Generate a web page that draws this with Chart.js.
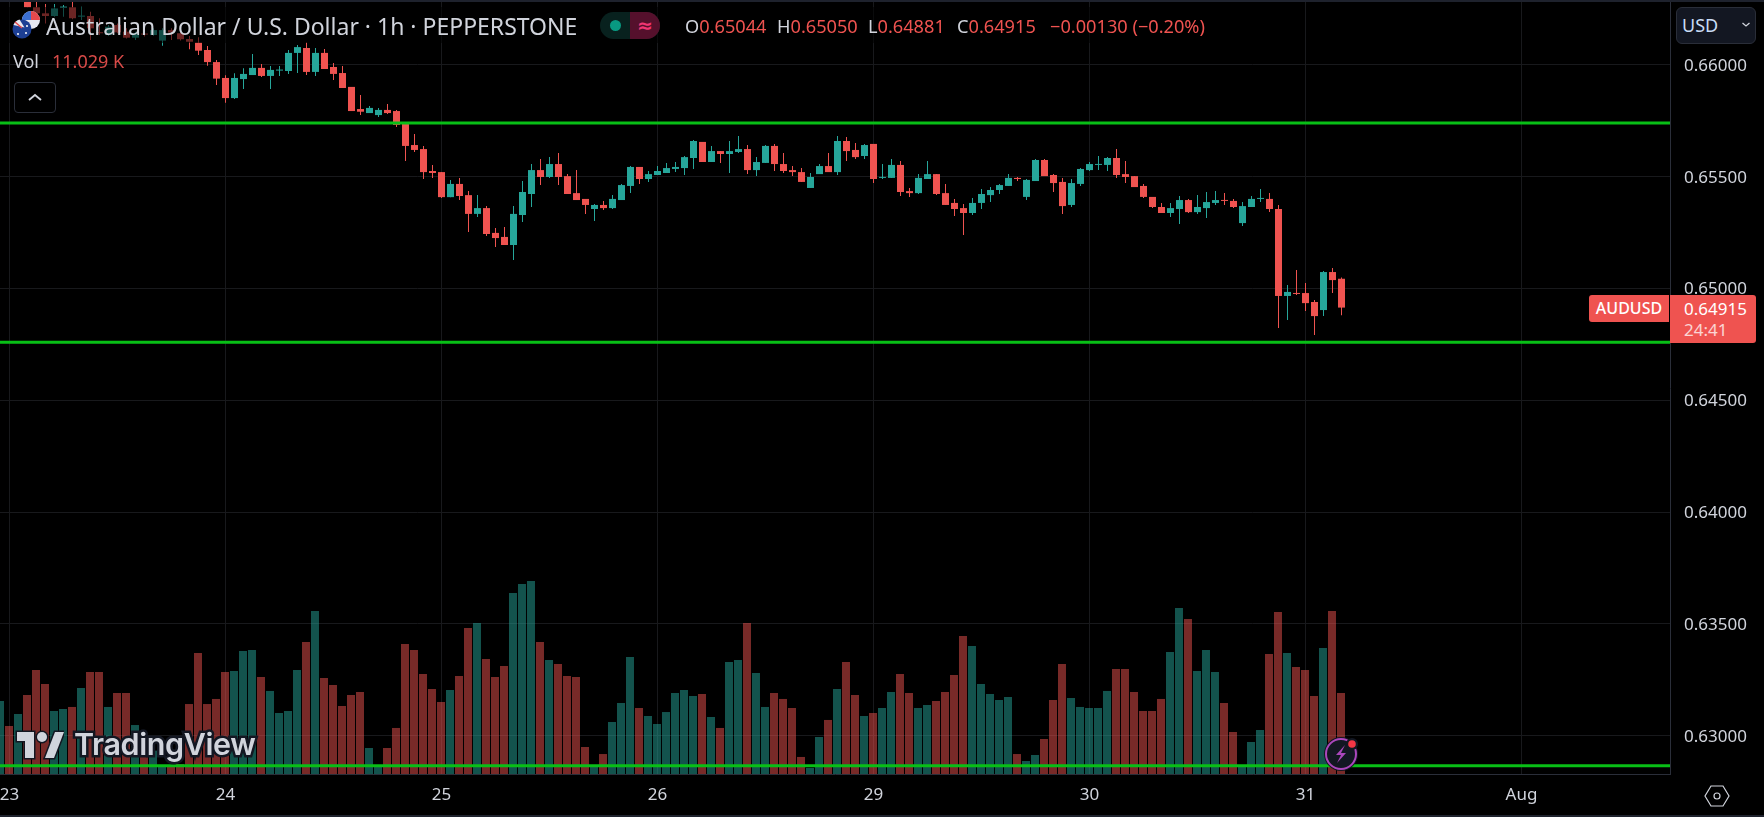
<!DOCTYPE html>
<html>
<head>
<meta charset="utf-8">
<title>AUDUSD 1h</title>
<script src="https://cdn.jsdelivr.net/npm/chart.js@4/dist/chart.umd.min.js"></script>
<style>
  html, body { margin: 0; padding: 0; background: #000; width: 1764px; height: 817px; overflow: hidden; }
  body { position: relative; font-family: "Noto Sans", sans-serif; color: #d1d4dc; }
  #chart { position: absolute; left: 0; top: 0; }
  .abs { position: absolute; white-space: nowrap; }
  .red { color: #ef5350; }
  #frameTop { left: 0; top: 0; width: 1764px; height: 2px; background: #1e222d; }
  #frameBottom { left: 0; top: 815px; width: 1764px; height: 2px; background: #1e222d; }
  #dim { left: 8px; top: 7px; width: 1205px; height: 36px; background: rgba(0,0,0,.55); }
  #title { left: 46px; top: 10px; font-size: 23px; line-height: 32px; }
  .ohlc { top: 12px; font-size: 18.2px; line-height: 28px; }
  #vol { left: 13px; top: 48px; font-size: 18px; line-height: 26px; }
  #volVal { left: 52px; top: 48px; font-size: 18px; line-height: 26px; color: #ef5350; opacity: .9; }
  #collapse { left: 14px; top: 82px; width: 40px; height: 29px; border: 1px solid #2a2e39; border-radius: 4px; }
  #pill { left: 600px; top: 12px; width: 60px; height: 27px; border-radius: 14px; overflow: hidden; background: #08211e; }
  #pill i { position: absolute; left: 10px; top: 8px; width: 11px; height: 11px; border-radius: 50%; background: #089981; }
  #pill b { position: absolute; left: 30px; top: 0; width: 30px; height: 27px; background: #55102c; color: #f23674; text-align: center; font: 700 19px/26px "DejaVu Sans", sans-serif; }
  #currency { left: 1676px; top: 7px; width: 78px; height: 35px; background: #131722; border: 1px solid #2a2e39; border-radius: 6px; font-size: 18px; line-height: 35px; text-indent: 5px; color: #c8dcf5; }
  #symbolTag { left: 1589px; top: 295px; width: 80px; height: 27px; background: #ef5350; border-radius: 3px 0 0 3px; color: #fff; font-size: 16px; font-weight: 500; line-height: 27px; text-align: center; }
  #priceTag { left: 1670px; top: 295px; width: 86px; height: 48px; background: #ef5350; border-radius: 0 3px 3px 0; color: #fff; font-size: 17px; }
  #priceTag span { position: absolute; left: 14px; }
</style>
</head>
<body>
<canvas id="chart" width="1764" height="817"></canvas>

<div class="abs" id="frameTop"></div>
<div class="abs" id="frameBottom"></div>
<div class="abs" id="dim"></div>

<svg class="abs" style="left:10px;top:8px" width="36" height="34" viewBox="0 0 36 34">
  <circle cx="21" cy="12" r="9" fill="#e8e8f0"/>
  <path d="M21 3a9 9 0 0 1 9 9h-9z" fill="#e5494d"/>
  <path d="M21 3a9 9 0 0 0-9 9h9z" fill="#3b6fd1"/>
  <circle cx="12" cy="21" r="9.5" fill="#1d3f94"/>
  <path d="M3.5 17a9.5 9.5 0 0 1 6-5.500l5 8z" fill="#e8e8f0"/>
  <path d="M5 14l7 6" stroke="#e5494d" stroke-width="1.500"/>
  <circle cx="16" cy="25" r="1" fill="#fff"/><circle cx="8" cy="26" r="1" fill="#fff"/><circle cx="17" cy="18" r="1" fill="#fff"/>
</svg>
<div class="abs" id="title">Australian Dollar / U.S. Dollar · 1h · PEPPERSTONE</div>
<div class="abs" id="pill"><i></i><b>≈</b></div>
<div class="abs ohlc" style="left:685px">O<span class="red">0.65044</span></div>
<div class="abs ohlc" style="left:777px">H<span class="red">0.65050</span></div>
<div class="abs ohlc" style="left:868px">L<span class="red">0.64881</span></div>
<div class="abs ohlc" style="left:957px">C<span class="red">0.64915</span></div>
<div class="abs ohlc red" style="left:1050px">−0.00130 (−0.20%)</div>
<div class="abs" id="vol">Vol</div>
<div class="abs" id="volVal">11.029 K</div>
<div class="abs" id="collapse">
  <svg width="40" height="29" viewBox="0 0 40 29"><path d="M14 17l6-5 6 5" fill="none" stroke="#d1d4dc" stroke-width="1.800"/></svg>
</div>

<div class="abs" id="currency">USD</div>
<svg class="abs" style="left:1741px;top:21px" width="10" height="8" viewBox="0 0 10 8"><path d="M1.500 2l3.500 3 3.500-3" fill="none" stroke="#d1d4dc" stroke-width="1.300"/></svg>
<div class="abs" id="symbolTag">AUDUSD</div>
<div class="abs" id="priceTag"><span style="top:2px">0.64915</span><span style="top:23px;opacity:.75">24:41</span></div>

<svg class="abs" style="left:14px;top:726px" width="50" height="38" viewBox="0 0 50 38">
  <g fill="#d1d4dc" stroke="#131722" stroke-width="3" paint-order="stroke">
    <path d="M20 32H11V15H3V6h17z"/>
    <circle cx="28" cy="11" r="5"/>
    <path d="M31 32l10-26h9l-10 26z"/>
  </g>
</svg>
<svg class="abs" style="left:70px;top:724px" width="196" height="44">
  <text x="4" y="31" font-family="Inter, Lato, sans-serif" font-weight="600" font-size="30.5" letter-spacing="-.4" fill="#d1d4dc" stroke="#131722" stroke-width="5" paint-order="stroke">TradingView</text>
</svg>

<svg class="abs" style="left:1319px;top:730px" width="44" height="44" viewBox="0 0 44 44">
  <circle cx="22" cy="24" r="17" fill="#131722"/>
  <circle cx="22" cy="24" r="15" fill="#131722" stroke="#ab47bc" stroke-width="2"/>
  <path d="M26 15l-9 10h5l-4 8 9-10h-5z" fill="#ab47bc"/>
  <circle cx="33" cy="14" r="6" fill="#131722"/>
  <circle cx="33" cy="14" r="3.800" fill="#f23645"/>
</svg>
<svg class="abs" style="left:1704px;top:784px" width="26" height="24" viewBox="0 0 26 24">
  <path d="M7 2h12l6 10-6 10H7L1 12z" fill="none" stroke="#d1d4dc" stroke-width="1.200"/>
  <circle cx="13" cy="12" r="3" fill="none" stroke="#d1d4dc" stroke-width="1.200"/>
</svg>

<script>
// price values are in points (1 point = 0.00001), first bar sits just left of the "23" line
const firstBar = -1;
const opens = [
  66320,66340,66310,66286,66258,66231,66219,66255,66258,66216,
  66219,66146,66134,66179,66149,66122,66139,66134,66109,66156,
  66142,66116,66100,66067,66013,65942,65852,65937,65955,65987,
  65951,65975,65973,66054,66076,65969,66054,65991,65964,65902,
  65803,65785,65776,65799,65794,65736,65642,65624,65526,65521,
  65409,65468,65418,65334,65360,65249,65231,65195,65329,65423,
  65530,65499,65557,65503,65427,65401,65356,65374,65360,65396,
  65459,65544,65490,65508,65517,65535,65539,65584,65656,65566,
  65615,65602,65611,65624,65530,65562,65638,65557,65530,65521,
  65450,65512,65548,65521,65660,65620,65593,65647,65495,65495,
  65553,65436,65427,65490,65512,65427,65383,65360,65338,65383,
  65418,65441,65459,65495,65410,65481,65575,65508,65477,65374,
  65468,65530,65553,65553,65584,65512,65503,65459,65410,65365,
  65338,65356,65396,65342,65360,65383,65396,65392,65293,65365,
  65401,65401,65356,64967,64980,64980,64940,64904,65074,65044
];
const highs = [
  66350,66350,66345,66300,66286,66273,66273,66268,66286,66261,
  66238,66209,66179,66186,66164,66149,66164,66164,66164,66164,
  66156,66130,66124,66085,66022,65954,65963,65985,66049,66004,
  65995,65995,66067,66089,66101,66076,66071,66009,65995,65902,
  65866,65817,65808,65825,65799,65736,65691,65638,65553,65521,
  65486,65495,65436,65418,65369,65271,65275,65369,65481,65557,
  65579,65588,65606,65512,65530,65401,65378,65392,65418,65468,
  65548,65544,65526,65548,65562,65566,65593,65665,65656,65638,
  65615,65660,65682,65642,65588,65642,65647,65606,65548,65539,
  65517,65557,65606,65682,65678,65651,65647,65647,65557,65580,
  65571,65450,65512,65571,65512,65468,65401,65378,65405,65445,
  65454,65468,65512,65499,65490,65580,65580,65512,65495,65490,
  65539,65566,65593,65588,65624,65571,65503,65468,65410,65383,
  65383,65414,65401,65418,65432,65436,65427,65401,65387,65414,
  65445,65427,65374,65016,65083,65025,64949,65079,65092,65050
];
const lows = [
  66310,66300,66300,66258,66231,66186,66216,66216,66204,66201,
  66112,66134,66130,66142,66119,66112,66127,66131,66086,66112,
  66109,66070,66045,65997,65910,65831,65848,65893,65955,65946,
  65893,65951,65960,65964,65955,65951,65982,65933,65897,65794,
  65776,65785,65767,65781,65723,65571,65611,65490,65495,65405,
  65409,65396,65253,65320,65235,65186,65195,65128,65298,65365,
  65463,65495,65463,65423,65396,65334,65302,65351,65356,65396,
  65427,65468,65477,65508,65517,65521,65508,65535,65566,65566,
  65562,65517,65606,65512,65503,65562,65526,65517,65503,65477,
  65450,65512,65521,65508,65571,65580,65580,65472,65490,65495,
  65414,65410,65423,65490,65418,65374,65325,65240,65329,65356,
  65387,65423,65459,65481,65396,65481,65503,65432,65334,65365,
  65459,65526,65530,65526,65495,65472,65454,65405,65360,65338,
  65320,65289,65338,65334,65316,65374,65374,65360,65280,65365,
  65387,65342,64824,64859,64971,64900,64792,64877,64980,64881
];
const closes = [
  66340,66310,66325,66258,66231,66219,66253,66261,66209,66221,
  66164,66142,66171,66146,66122,66142,66136,66156,66156,66145,
  66115,66104,66064,66013,65939,65852,65942,65960,65987,65951,
  65978,65978,66054,66080,65969,66054,65982,65960,65897,65794,
  65791,65808,65799,65785,65732,65638,65620,65521,65517,65409,
  65468,65414,65334,65360,65244,65226,65195,65334,65432,65530,
  65499,65557,65499,65423,65396,65374,65374,65360,65401,65463,
  65544,65490,65512,65526,65539,65544,65588,65660,65566,65615,
  65602,65615,65624,65530,65566,65638,65557,65526,65521,65477,
  65499,65548,65521,65660,65615,65588,65642,65490,65499,65553,
  65432,65427,65495,65512,65423,65374,65356,65338,65383,65423,
  65441,65463,65495,65490,65486,65575,65503,65472,65369,65472,
  65535,65557,65557,65584,65508,65499,65454,65410,65365,65338,
  65360,65396,65342,65365,65387,65396,65392,65365,65369,65401,
  65405,65356,64967,64985,64976,64935,64877,65074,65038,64915
];
const volumes = [
  9940,6540,8170,10760,14170,12260,8580,8850,9130,11710,
  13890,13890,9130,11030,11030,6670,4540,3180,1230,1230,
  1360,9530,16480,9530,10220,13890,14030,16750,16890,13210,
  11310,8310,8580,14170,17980,22200,13080,12120,9260,10760,
  11170,3540,1230,3540,6270,17710,16890,13620,11580,9810,
  11440,13350,19890,20570,15660,13210,14710,24650,25880,26290,
  17980,15530,14980,13350,13210,3680,1230,2720,7080,9670,
  15940,8990,7900,6810,8440,11030,11440,10620,10900,7760,
  6270,15250,15530,20570,13760,9130,11030,10220,8990,2320,
  820,5040,7360,11580,15250,10760,7900,8310,8990,11170,
  13620,11030,8990,9400,9940,11170,13480,18800,17430,12260,
  10900,10080,10490,2720,1770,2590,4770,10080,14980,10350,
  9130,8990,8990,11310,14300,14300,11170,8580,8580,10220,
  16620,22610,21110,14030,16890,13890,9670,5720,1090,4360,
  5990,16340,22060,16480,14570,14170,10620,17160,22200,11029
];

// horizontal levels drawn by hand on the chart
const levels = [0.6574, 0.6476, 0.62866];

const priceTicks = [0.63, 0.635, 0.64, 0.645, 0.65, 0.655, 0.66];
const dayTicks = [0, 24, 48, 72, 96, 120, 144, 168];
const dayLabels = ['23', '24', '25', '26', '29', '30', '31', 'Aug'];

const up = '#26a69a', down = '#ef5350';
const upVol = 'rgba(38,166,154,.5)', downVol = 'rgba(239,83,80,.5)';
const gridColor = '#18191c', axisColor = '#2a2e39', textColor = '#d1d4dc';
const font = { family: '"Noto Sans", sans-serif', size: 17 };

const xMin = -1.0556, xMax = 184.5;
const PT = 1e-5;

const isUp = i => closes[i] >= opens[i];
const barX = i => firstBar + i;

// the labels would otherwise pull the plot in from the canvas edges
const noPad = axis => {
    axis.paddingLeft = axis.paddingRight = axis.paddingTop = axis.paddingBottom = 0;
};

new Chart(document.getElementById('chart'), {
    type: 'bar',
    data: {
        datasets: [
            ...levels.map(lvl => ({
                type: 'line',
                data: [{ x: xMin, y: lvl }, { x: xMax, y: lvl }],
                borderColor: '#08bf16',
                borderWidth: 3,
                pointRadius: 0,
                order: 0
            })),
            {
                data: opens.map((o, i) => ({ x: barX(i), y: [o * PT, closes[i] * PT] })),
                backgroundColor: opens.map((o, i) => isUp(i) ? up : down),
                barThickness: 7,
                minBarLength: 1,
                inflateAmount: 0,
                grouped: false,
                order: 1
            },
            {
                data: lows.map((l, i) => ({ x: barX(i), y: [l * PT, highs[i] * PT] })),
                backgroundColor: opens.map((o, i) => isUp(i) ? up : down),
                barThickness: 1,
                inflateAmount: 0,
                grouped: false,
                order: 2
            },
            {
                data: volumes.map((v, i) => ({ x: barX(i), y: v })),
                backgroundColor: opens.map((o, i) => isUp(i) ? upVol : downVol),
                barThickness: 8,
                inflateAmount: 0,
                grouped: false,
                xAxisID: 'xVol',
                yAxisID: 'yVol',
                order: 3
            }
        ]
    },
    options: {
        responsive: false,
        animation: false,
        events: [],
        layout: { autoPadding: false, padding: { top: 2 } },
        plugins: { legend: { display: false }, tooltip: { enabled: false } },
        scales: {
            x: {
                type: 'linear',
                offset: false,
                min: xMin,
                max: xMax,
                afterBuildTicks: axis => { axis.ticks = dayTicks.map(value => ({ value })); },
                afterFit: axis => { axis.height = 43; noPad(axis); },
                grid: { color: gridColor, drawTicks: false, offset: false },
                border: { color: axisColor },
                ticks: {
                    color: textColor,
                    font,
                    padding: 11,
                    autoSkip: false,
                    maxRotation: 0,
                    callback: value => dayLabels[dayTicks.indexOf(value)]
                }
            },
            // same bars, half a pixel to the left so the 8px volume bars sit on whole pixels
            xVol: { type: 'linear', offset: false, min: xMin + 0.0556, max: xMax + 0.0556, display: false },
            y: {
                position: 'right',
                min: 0.628291,
                max: 0.662817,
                afterBuildTicks: axis => { axis.ticks = priceTicks.map(value => ({ value })); },
                afterFit: axis => { axis.width = 94; noPad(axis); },
                grid: { color: gridColor, drawTicks: false },
                border: { color: axisColor },
                ticks: {
                    color: textColor,
                    font,
                    padding: 14,
                    labelOffset: 1,
                    callback: value => value.toFixed(5)
                }
            },
            yVol: { min: 0, max: 105146, display: false }
        }
    }
});
</script>
</body>
</html>
